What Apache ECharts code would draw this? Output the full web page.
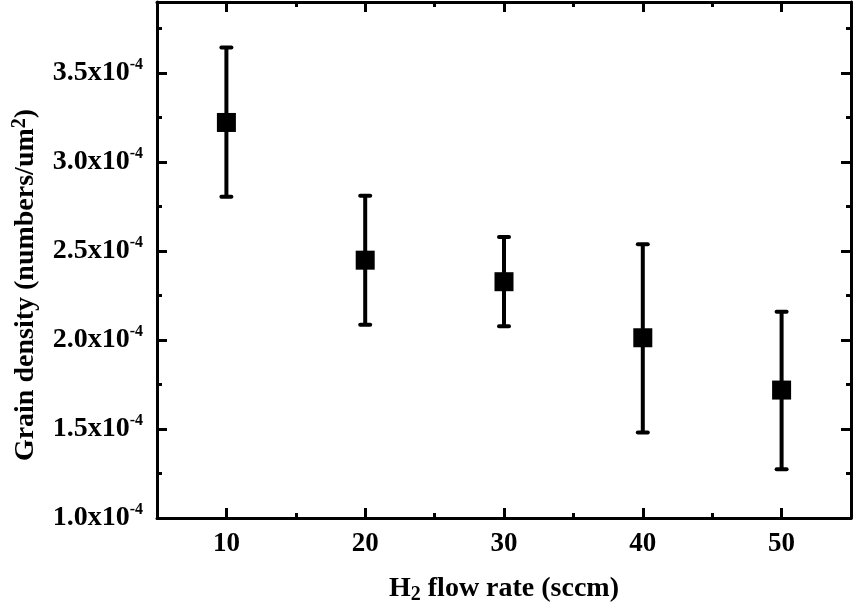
<!DOCTYPE html>
<html>
<head>
<meta charset="utf-8">
<script src="https://cdn.jsdelivr.net/npm/echarts@6/dist/echarts.min.js"></script>
<style>html,body{margin:0;padding:0;background:#fff}#c{width:860px;height:616px}</style>
</head>
<body>
<div id="c"></div>
<script>
// ---- data ----
const flowRate = [10, 20, 30, 40, 50];                       // H2 flow rate (sccm)
const grainDensity = [3.223e-4, 2.449e-4, 2.328e-4, 2.013e-4, 1.719e-4];
const errUpper = [3.644e-4, 2.811e-4, 2.579e-4, 2.538e-4, 2.159e-4];
const errLower = [2.805e-4, 2.086e-4, 2.077e-4, 1.481e-4, 1.274e-4];
const xMajorTicks = [10, 20, 30, 40, 50];
const xMinorTicks = [15, 25, 35, 45];
const yMajorTicks = [1.0e-4, 1.5e-4, 2.0e-4, 2.5e-4, 3.0e-4, 3.5e-4];
const yMinorTicks = [1.25e-4, 1.75e-4, 2.25e-4, 2.75e-4, 3.25e-4, 3.75e-4];
const xRange = [5, 55];
const yRange = [1.0e-4, 3.9e-4];

const FONT = 'Liberation Serif';
const chart = echarts.init(document.getElementById('c'), null, {renderer: 'canvas'});

function xAxisDef(pos, ticks, len, withLine, withLabel, extra) {
  return Object.assign({
    type: 'value', position: pos, min: xRange[0], max: xRange[1],
    axisLine: {show: withLine, onZero: false, lineStyle: {color: '#000', width: 3}},
    axisTick: {show: true, inside: true, length: len, customValues: ticks, lineStyle: {color: '#000', width: 3}},
    axisLabel: withLabel ? {
      show: true, customValues: ticks, margin: 13,
      color: '#000', fontFamily: FONT, fontWeight: 'bold', fontSize: 27
    } : {show: false},
    splitLine: {show: false}
  }, extra || {});
}
function yAxisDef(pos, ticks, len, withLine, withLabel, extra) {
  return Object.assign({
    type: 'value', position: pos, min: yRange[0], max: yRange[1],
    axisLine: {show: withLine, onZero: false, lineStyle: {color: '#000', width: 3}},
    axisTick: {show: true, inside: true, length: len, customValues: ticks, lineStyle: {color: '#000', width: 3}},
    axisLabel: withLabel ? {
      show: true, customValues: ticks, margin: 14,
      formatter: v => '{b|' + (v * 1e4).toFixed(1) + 'x10}{s|-4}',
      rich: {
        b: {fontFamily: FONT, fontWeight: 'bold', fontSize: 28, color: '#000', lineHeight: 32},
        s: {fontFamily: FONT, fontWeight: 'bold', fontSize: 16, color: '#000', lineHeight: 16, verticalAlign: 'top'}
      }
    } : {show: false},
    splitLine: {show: false}
  }, extra || {});
}

const option = {
  backgroundColor: '#fff',
  animation: false,
  grid: {left: 157, right: 9, top: 2, bottom: 98, containLabel: false},
  xAxis: [
    xAxisDef('bottom', xMajorTicks, 10, true, true, {
      name: '{t|H}{sub|2}{t| flow rate (sccm)}',
      nameLocation: 'middle', nameGap: 55,
      nameTextStyle: {
        rich: {
          t: {fontFamily: FONT, fontWeight: 'bold', fontSize: 28, color: '#000', lineHeight: 32},
          sub: {fontFamily: FONT, fontWeight: 'bold', fontSize: 20, color: '#000', lineHeight: 20, verticalAlign: 'bottom'}
        }
      }
    }),
    xAxisDef('bottom', xMinorTicks, 5, false, false),
    xAxisDef('top', xMajorTicks, 10, true, false),
    xAxisDef('top', xMinorTicks, 5, false, false)
  ],
  yAxis: [
    yAxisDef('left', yMajorTicks, 10, true, true, {
      name: '{t|Grain density (numbers/um}{sup|2}{t|)}',
      nameLocation: 'middle', nameGap: 115, nameRotate: 90,
      nameTextStyle: {
        padding: [0, 50, 0, 0],
        rich: {
          t: {fontFamily: FONT, fontWeight: 'bold', fontSize: 28, color: '#000', lineHeight: 32},
          sup: {fontFamily: FONT, fontWeight: 'bold', fontSize: 20, color: '#000', lineHeight: 20, verticalAlign: 'top'}
        }
      }
    }),
    yAxisDef('left', yMinorTicks, 5, false, false),
    yAxisDef('right', yMajorTicks, 10, true, false),
    yAxisDef('right', yMinorTicks, 5, false, false)
  ],
  series: [
    {
      type: 'custom',
      xAxisIndex: 0, yAxisIndex: 0,
      data: flowRate.map((x, i) => [x, errLower[i], errUpper[i]]),
      encode: {x: 0, y: [1, 2]},
      renderItem: function (params, api) {
        const x = api.value(0);
        const pLo = api.coord([x, api.value(1)]);
        const pHi = api.coord([x, api.value(2)]);
        const cw = 5;
        const st = {stroke: '#000', lineWidth: 4, lineCap: 'round'};
        return {
          type: 'group',
          children: [
            {type: 'line', shape: {x1: pHi[0], y1: pHi[1], x2: pLo[0], y2: pLo[1]}, style: {stroke: '#000', lineWidth: 4}},
            {type: 'line', shape: {x1: pHi[0] - cw, y1: pHi[1], x2: pHi[0] + cw, y2: pHi[1]}, style: st},
            {type: 'line', shape: {x1: pLo[0] - cw, y1: pLo[1], x2: pLo[0] + cw, y2: pLo[1]}, style: st}
          ]
        };
      },
      z: 2
    },
    {
      type: 'scatter',
      xAxisIndex: 0, yAxisIndex: 0,
      data: flowRate.map((x, i) => [x, grainDensity[i]]),
      symbol: 'rect', symbolSize: 19,
      itemStyle: {color: '#000', opacity: 1},
      z: 3
    }
  ]
};
chart.setOption(option);
</script>
</body>
</html>
